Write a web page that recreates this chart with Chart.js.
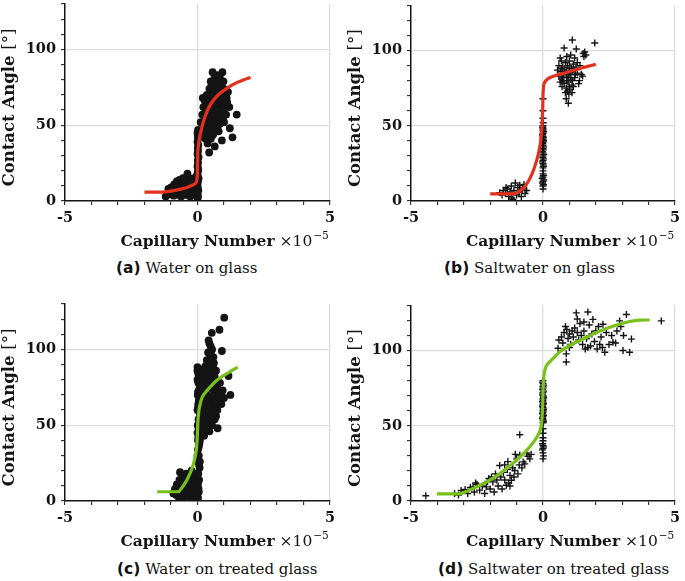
<!DOCTYPE html>
<html><head><meta charset="utf-8">
<script src="https://cdn.jsdelivr.net/npm/chart.js@4/dist/chart.umd.min.js"></script>
<style>
body{margin:0;background:#fff;width:685px;height:581px;position:relative;overflow:hidden}
.pn{position:absolute;width:342px;height:258px}
.cap{position:absolute;font-family:"DejaVu Serif";font-size:15px;line-height:18px;white-space:nowrap;color:#111}
.cap b{font-family:"DejaVu Sans";font-weight:bold;font-size:15.5px}
</style></head><body>
<div class="pn" style="left:0;top:0"><canvas id="ca"></canvas></div>
<div class="pn" style="left:343px;top:0"><canvas id="cb"></canvas></div>
<div class="pn" style="left:0;top:300px"><canvas id="cc"></canvas></div>
<div class="pn" style="left:343px;top:300px"><canvas id="cd"></canvas></div>
<div class="cap" style="left:116px;top:259px"><b>(a)</b> Water on glass</div>
<div class="cap" style="left:444px;top:259px"><b>(b)</b> Saltwater on glass</div>
<div class="cap" style="left:117px;top:560px"><b>(c)</b> Water on treated glass</div>
<div class="cap" style="left:438px;top:560px"><b>(d)</b> Saltwater on treated glass</div>
<script>
// ---- tick labels / titles ----
const xTickValues = [-5, 0, 5];
const xTickLabels = ['-5', '0', '5'];
const yTickValues = [0, 50, 100];
const yTickLabels = ['0', '50', '100'];
const xTitleMain = 'Capillary Number';
const xTitleScale = '×10';
const xTitleExp = '−5';
const yTitleMain = 'Contact Angle';
const yTitleUnit = '[°]';

// ---- (a) Water on glass: measurements [capillary number ×1e-5, contact angle] ----
const waterGlassPoints = [
[-1.15,4],[-1.1,8],[-1.05,6],[-1.0,9],[-0.95,5],[-0.9,7],[-0.88,11],[-0.85,4],[-0.8,8],[-0.78,13],[-0.75,6],[-0.7,10],[-0.68,14],[-0.65,5],[-0.6,8],[-0.58,12],[-0.55,15],[-0.5,7],[-0.48,10],[-0.45,4],[-0.42,13],[-0.38,18],[-0.38,9],[-0.35,6],[-0.32,11],[-0.3,15],[-0.28,3],[-0.25,8],[-0.22,12],[-0.2,5],[-0.18,10],[-0.15,14],[-0.12,7],[-0.1,4],[-0.08,11],[-0.06,16],[-1.2,3],[-0.62,3],[-0.9,3.5],[-0.3,4],
[0,1],[0.02,3],[0,5],[0.03,7],[0.01,9],[0,11],[0.02,13],[0.04,15],[0,17],[0.01,19],[0.03,21],[0,23],[0.02,25],[0.01,27],[0.04,29],[0,31],[0.02,33],[0.01,35],[0.03,37],[0,39],[0.02,41],[0.01,43],[0,45],[0.02,47],
[0.57,85],[0.94,85],[0.66,82],[0.85,81],[0.5,79],[0.72,78],[0.9,77],[0.6,76],[0.8,75],[1.0,74],[0.45,74],[0.55,72],[0.7,72],[0.88,71],[1.05,70],[0.35,70],[0.48,68],[0.62,68],[0.78,67],[0.95,66],[1.12,65],[0.28,66],[0.4,64],[0.52,63],[0.68,63],[0.85,62],[1.0,61],[1.2,62],[0.22,62],[0.32,60],[0.45,59],[0.6,58],[0.75,58],[0.9,57],[1.08,57],[1.48,57],[0.18,57],[0.28,55],[0.4,54],[0.55,53],[0.7,52],[0.85,51],[1.0,52],[0.22,51],[0.35,49],[0.5,48],[0.65,47],[0.8,46],[1.22,48],[0.25,46],[0.4,44],[0.55,43],[0.3,41],[0.5,41],[0.92,40],[1.32,42],[0.65,36],[0.44,32],[0.38,38],[0.15,45],[0.12,52],[0.2,68],[0.75,83],[1.1,68],[1.15,72],[0.98,79],
[0.62,80],[0.78,79],[0.52,76],[0.68,75],[0.58,69],[0.72,65],[0.42,61],[0.58,61],[0.38,57],[0.52,56],[0.65,55],[0.8,54],[0.45,51],[0.6,50],[0.75,49],[0.35,46],[0.48,45],[0.6,44],[0.38,41],[0.92,60],[0.98,56],[1.05,64]
];
const waterGlassFit = [
[-2.0,5.8],[-1.5,5.8],[-1.2,6.0],[-0.9,6.8],[-0.6,8.0],[-0.35,9.3],[-0.15,10.8],[-0.05,12.5],[-0.01,16],[0.0,22],[0.01,31],[0.04,37],[0.08,42],[0.13,46],[0.2,51],[0.3,56.5],[0.45,62.5],[0.6,66.5],[0.8,70.3],[1.0,73],[1.25,76],[1.5,78.3],[1.75,80],[2.0,81.5]
];

// ---- (b) Saltwater on glass ----
const saltGlassPoints = [
[-1.64,5.5],[-1.55,4],[-1.5,7],[-1.42,5],[-1.35,8],[-1.3,3],[-1.25,6],[-1.2,10],[-1.14,1],[-1.1,7],[-1.05,12],[-1.0,4],[-0.95,9],[-0.9,6],[-0.88,10.5],[-0.82,3],[-0.78,8],[-0.72,11],[-0.68,5],[-0.62,7],[-1.18,2],[-1.4,9],
[0,8],[0,10],[0.02,11],[-0.02,12],[0,13],[0.03,14],[-0.03,15],[0,16],[0.02,17],[0,18],[0,20],[0,22],[0.02,23],[0.01,24],[0,25],[-0.02,26],[0,27],[0.02,28],[-0.01,29],[0,30],[0.03,31],[0,32],[-0.02,33],[0.01,34],[0,35],[0.02,36],[0,37],[-0.01,38],[0,39],[0.02,40],[0,41],[0.01,42],[0,43],[-0.02,44],[0,45],[0.02,46],[0,47],[0,48],[-0.01,49],[0,50],[0.01,52],[0,55],[0,60],[0,68],
[1.11,107],[1.96,105],[0.8,101.7],[1.26,101],[1.58,99],[1.52,98],[1.62,97],[1.55,96],[0.65,95],[0.9,96],[1.05,97],[1.2,95],[0.7,93],[0.85,92],[1.0,93],[1.15,91],[1.3,92],[0.6,90],[0.75,89],[0.92,90],[1.08,88],[1.25,89],[1.4,90],[0.55,87],[0.68,86],[0.82,87],[0.98,85],[1.12,86],[1.3,85],[1.45,84],[0.6,83],[0.75,82],[0.9,83],[1.05,81],[1.2,82],[1.38,80],[0.65,79],[0.8,78],[0.95,79],[1.1,77],[1.35,78],[0.72,76],[0.88,75],[1.02,74],[1.15,76],[0.85,72],[0.98,71],[1.1,72],[0.88,68],[0.96,65],[0.75,80],[1.5,83],
[0.7,88],[0.88,86],[1.0,89],[1.18,87],[0.78,84],[0.95,82],[1.12,80],[0.7,81],[0.9,80],[1.05,84],[1.22,84],[1.0,76],[0.92,73]
];
const saltGlassFit = [
[-2.0,4.8],[-1.5,4.8],[-1.05,4.9],[-0.85,7],[-0.65,10.5],[-0.48,15.5],[-0.32,22.5],[-0.2,29.5],[-0.12,36],[-0.06,44],[-0.03,52],[-0.01,62],[0.0,70],[0.02,76],[0.07,79],[0.15,80.7],[0.3,82.3],[0.5,83.5],[0.8,85],[1.1,86.6],[1.4,88],[1.7,89.5],[2.0,90.8]
];

// ---- (c) Water on treated glass ----
const waterTreatedPoints = [
[-0.91,5],[-0.85,8],[-0.8,4],[-0.78,11],[-0.72,7],[-0.68,14],[-0.66,19],[-0.62,5],[-0.58,10],[-0.55,16],[-0.5,3],[-0.48,8],[-0.45,12],[-0.42,18],[-0.38,6],[-0.35,10],[-0.34,16],[-0.3,3],[-0.28,13],[-0.25,8],[-0.22,20],[-0.2,5],[-0.18,11],[-0.15,16],[-0.12,3],[-0.1,9],[-0.08,14],[-0.05,6],[-0.7,2],[-0.6,2.5],
[0.02,2],[0.05,6],[0.01,10],[0.06,14],[0.03,18],[0.08,22],[0.01,26],[0.05,30],[0.02,34],[0.07,38],[0.03,42],[0.06,46],[0.01,50],[0.04,54],[0.08,58],[0.02,62],[0.05,66],[0.01,70],[0.07,74],[0.03,78],[0.05,82],[0,86],[0,88.4],[0.09,26],[0.09,40],[0.09,55],[0.1,65],[0,80],[0,60],[0,45],[0,30],[0,18],
[0.03,84],[0.06,79],[0.02,72],[0.06,68],[0.03,64],[0.07,50],[0.04,48],[0.02,40],[0.05,36],[0.03,28],[0.06,24],[0.02,12],[0.04,8],
[1.01,121],[0.83,113],[0.54,111],[0.45,104],[0.5,102],[0.55,100],[0.92,99],[0.4,98],[0.52,96],[0.6,95],[0.35,93],[0.48,92],[0.62,91],[0.3,89],[0.42,88],[0.55,87],[0.7,86],[0.25,85],[0.38,84],[0.5,83],[1.17,82.5],[0.65,82],[0.2,81],[0.32,80],[0.45,79],[0.6,78],[0.75,77],[0.15,77],[0.28,76],[0.4,75],[0.55,74],[0.7,73],[0.85,72],[1.24,70],[0.2,72],[0.35,70],[0.5,69],[0.65,68],[0.8,67],[1.0,68],[0.95,73],[0.25,66],[0.4,65],[0.55,64],[0.7,63],[0.9,64],[0.3,61],[0.45,60],[0.6,59],[0.75,60],[0.2,58],[0.35,56],[0.5,55],[0.65,54],[0.25,52],[0.4,51],[0.55,50],[0.3,47],[0.45,46],[0.76,48],[0.25,43],[0.18,62],[0.12,70],[0.1,55],
[0.42,106],[0.48,97],[0.38,90],[0.58,89],[0.22,87],[0.15,83],[0.48,80],[0.85,78],[0.62,70],[0.78,71],[0.15,66],[0.55,58],[0.7,56],[0.38,53],[0.2,48]
];
const waterTreatedFit = [
[-1.52,6.1],[-1.1,6.1],[-0.72,6.1],[-0.6,8.5],[-0.5,11],[-0.4,13.8],[-0.3,17.5],[-0.22,21],[-0.15,24.7],[-0.09,29],[-0.05,33],[-0.03,36],[-0.01,42],[0.01,50.9],[0.03,56],[0.06,60.5],[0.1,64],[0.18,68.5],[0.35,72.7],[0.55,76.6],[0.73,79.7],[0.92,82],[1.11,84],[1.32,86.3],[1.52,88.4]
];

// ---- (d) Saltwater on treated glass ----
const saltTreatedPoints = [
[-4.44,3.5],
[-3.35,5],[-3.2,4],[-3.1,7],[-2.95,7.6],[-2.85,5],[-2.75,9],[-2.65,9.4],[-2.6,6],[-2.5,11],[-2.4,7.2],[-2.3,10],[-2.21,5],[-2.15,9.4],[-2.1,13],[-2.0,8],[-1.95,16],[-1.9,12.7],[-1.85,6],[-1.8,18],[-1.75,14],[-1.7,10],[-1.64,23.6],[-1.6,16],[-1.55,8],[-1.5,19],[-1.45,14],[-1.39,10.5],[-1.35,21],[-1.33,26.2],[-1.3,12],[-1.25,17],[-1.2,13.8],[-1.15,22],[-1.1,16],[-1.07,20.3],[-1.0,28],[-0.95,18],[-0.9,24],[-0.88,44],[-0.88,30.6],[-0.8,22],[-0.75,26],[-0.69,24.7],[-0.62,32],[-0.57,29.7],[-0.5,28],[-0.45,31],[-1.45,24],[-1.25,10],[-2.05,15],[-2.55,12],[-1.05,31],
[0,28],[0.02,30],[0,32],[-0.02,34],[0,35],[0.02,36],[0,37],[-0.02,38],[0,40],[0,42],[0,45],[0,48],[0,52],[0.02,53],[0,54],[-0.02,55],[0,56],[0.02,57],[-0.02,58],[0,59],[0,60],[0.02,61],[0,62],[-0.02,63],[0,64],[0.02,65],[-0.02,66],[0,67],[0,68],[0.02,69],[0,70],[-0.02,71],[0,72],[0.02,73],[-0.02,74],[0,75],[0,76],[0.02,77],[0,78],[-0.02,79],[0,80],
[0.57,101.5],[0.88,92.4],[0.88,97.8],[1.26,125],[1.7,125.6],[1.89,120.7],[2.27,117.5],[2.9,119.7],[3.16,124],[3.35,107.6],[3.03,100],[3.28,98.9],[2.34,98.9],[2.65,105.5],[4.48,119.7],
[0.6,107],[0.7,109],[0.75,105],[0.8,112],[0.9,114],[0.95,108],[1.0,111],[1.05,104],[1.1,113],[1.15,109],[1.2,115],[1.3,112],[1.35,107],[1.4,118],[1.45,110],[1.5,104],[1.55,113],[1.6,101],[1.65,108],[1.75,117],[1.8,103],[1.85,111],[1.95,106],[2.0,113],[2.05,101],[2.1,116],[2.15,104],[2.2,109],[2.4,112],[2.5,104],[2.6,110],[2.75,105],[2.8,113],[2.95,116],[3.05,110],[1.3,121],[1.55,119],[0.85,116],[1.0,102],[1.7,102],[2.25,102]
];
const saltTreatedFit = [
[-4.02,4.8],[-3.6,4.8],[-3.16,4.8],[-2.9,6.3],[-2.65,8.3],[-2.35,10.8],[-2.02,13.8],[-1.7,17.4],[-1.39,21.4],[-1.08,26],[-0.76,31.2],[-0.5,36],[-0.25,42],[-0.12,46.5],[-0.06,51],[-0.02,60],[0.0,72.7],[0.03,82],[0.08,87.5],[0.15,90.5],[0.25,92.4],[0.45,96],[0.65,99.3],[0.88,102],[1.25,105.5],[1.64,108.7],[2.0,111.8],[2.4,114.6],[2.85,117.3],[3.28,119.3],[3.65,120.2],[4.04,120.3]
];

const RED = '#e2311d', GREEN = '#78c11a', INK = '#141414', GRID = '#dcdcdc';
const SERIF = '"DejaVu Serif", serif';

const axisTitles = {
  id: 'axisTitles',
  afterDraw(chart) {
    const ctx = chart.ctx, a = chart.chartArea;
    ctx.save();
    ctx.fillStyle = INK;
    ctx.textBaseline = 'middle';
    ctx.textAlign = 'left';
    const fB = 'bold 15.5px ' + SERIF, fR = '15.5px ' + SERIF, fS = '10.5px ' + SERIF;
    const gB = 'bold 16.5px ' + SERIF, gR = '16.5px ' + SERIF;
    // x title
    ctx.font = fB;
    const w1 = ctx.measureText(xTitleMain).width;
    const cx = (a.left + a.right) / 2, ty = a.bottom + 41;
    ctx.fillText(xTitleMain, cx - w1 / 2, ty);
    let px = cx + w1 / 2 + 5;
    ctx.font = fR; ctx.fillText(xTitleScale, px, ty);
    px += ctx.measureText(xTitleScale).width + 1;
    ctx.font = fS; ctx.fillText(xTitleExp, px, ty - 6);
    // y title
    ctx.translate(a.left - 55, (a.top + a.bottom) / 2 + 5);
    ctx.rotate(-Math.PI / 2);
    ctx.font = gB; const y1 = ctx.measureText(yTitleMain + ' ').width;
    ctx.font = gR; const y2 = ctx.measureText(yTitleUnit).width;
    const sx = -(y1 + y2) / 2;
    ctx.font = gB; ctx.fillText(yTitleMain + ' ', sx, 0);
    ctx.font = gR; ctx.fillText(yTitleUnit, sx + y1, 0);
    ctx.restore();
  }
};

function makeChart(id, pts, fit, lineColor, cross, yWidth, padRight) {
  const scatter = cross ? {
    pointStyle: 'cross', pointRadius: 3.5, borderWidth: 1.4, borderColor: INK, backgroundColor: INK
  } : {
    pointStyle: 'circle', pointRadius: 3.9, borderWidth: 0, borderColor: INK, backgroundColor: INK
  };
  return new Chart(document.getElementById(id), {
    type: 'scatter',
    data: {
      datasets: [
        { type: 'line', data: fit.map(p => ({ x: p[0], y: p[1] })), borderColor: lineColor, borderWidth: 3.2,
          pointRadius: 0, fill: false, cubicInterpolationMode: 'monotone', order: 1 },
        Object.assign({ type: 'scatter', data: pts.map(p => ({ x: p[0], y: p[1] })), order: 2 }, scatter)
      ]
    },
    options: {
      animation: false, responsive: true, maintainAspectRatio: false, events: [],
      layout: { padding: { top: 2, right: padRight, left: 0, bottom: 0 } },
      plugins: { legend: { display: false }, tooltip: { enabled: false } },
      scales: {
        x: {
          type: 'linear', min: -5, max: 5,
          ticks: {
            stepSize: 1, autoSkip: false, maxRotation: 0, padding: 5, color: INK,
            font: { family: SERIF, weight: 'bold', size: 14.5 },
            callback: v => { const i = xTickValues.indexOf(v); return i >= 0 ? xTickLabels[i] : ''; }
          },
          grid: { color: c => (c.tick && (c.tick.value === 0 || c.tick.value === 5)) ? GRID : 'rgba(0,0,0,0)',
                  lineWidth: 1.3, tickColor: INK, tickLength: 4, tickWidth: 1 },
          border: { color: INK, width: 1.5 },
          afterFit(s) { s.height = 57; s.paddingLeft = 0; s.paddingRight = 0; }
        },
        y: {
          type: 'linear', min: 0, max: 130,
          ticks: {
            stepSize: 10, autoSkip: false, padding: 5, color: INK,
            font: { family: SERIF, weight: 'bold', size: 14.5 },
            callback: v => { const i = yTickValues.indexOf(v); return i >= 0 ? yTickLabels[i] : ''; }
          },
          grid: { color: c => (c.tick && (c.tick.value === 50 || c.tick.value === 100)) ? GRID : 'rgba(0,0,0,0)',
                  lineWidth: 1.3, tickColor: INK, tickLength: 4, tickWidth: 1 },
          border: { color: INK, width: 1.5 },
          afterFit(s) { s.width = yWidth; s.paddingTop = 0; s.paddingBottom = 0; }
        }
      }
    },
    plugins: [axisTitles]
  });
}

makeChart('ca', waterGlassPoints, waterGlassFit, RED, false, 65, 12);
makeChart('cb', saltGlassPoints, saltGlassFit, RED, true, 68, 10);
makeChart('cc', waterTreatedPoints, waterTreatedFit, GREEN, false, 65, 12);
makeChart('cd', saltTreatedPoints, saltTreatedFit, GREEN, true, 68, 10);
</script>
</body></html>
